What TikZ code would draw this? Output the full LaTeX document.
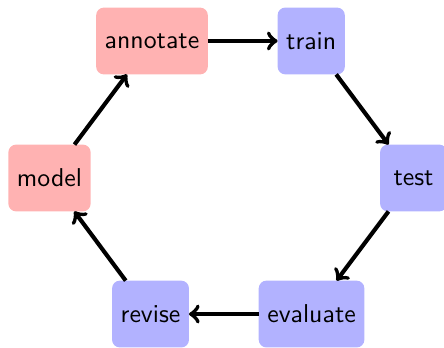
\documentclass[tikz,border=0pt]{standalone}
\usepackage{xcolor}
\usepackage{tikz}
\usetikzlibrary{arrows,%
                shapes,positioning}

\begin{document}
\begin{tikzpicture}[node distance=0.95cm]
\tikzset{StepStyle/.style = {shape          = rectangle,
                               rounded corners = 3pt,
                               inner sep      = 3.33pt,
                               outer sep      = 0pt,
                               minimum size   = 0.91cm,
                               font           = \sffamily}}
\useasboundingbox (0,0) rectangle (6.047,-4.726);
     \node[StepStyle,fill=red!30] (AN) at (2.070,-0.558) {annotate};
     \node[StepStyle,fill=blue!30,right=of AN] (TR) {train};
     \node[StepStyle,fill=blue!30] (TE) at (5.632,-2.424) {test};
     \node[StepStyle,fill=blue!30] (EV) at (4.243,-4.277) {evaluate};
     \node[StepStyle,fill=blue!30,left=of EV] (RE) {revise};
     \node[StepStyle,fill=red!30] (MO) at (0.674,-2.424) {model};
     %\draw[ultra thick,->](RE) to (AN);
     \draw[ultra thick,->](AN) -- (TR);
     \draw[ultra thick,->](TR) -- (TE);
     \draw[ultra thick,->](TE) -- (EV);
     \draw[ultra thick,->](EV) -- (RE);
     \draw[ultra thick,->](RE) -- (MO);
     \draw[ultra thick,->](MO) -- (AN);

  \end{tikzpicture}
\end{document}
